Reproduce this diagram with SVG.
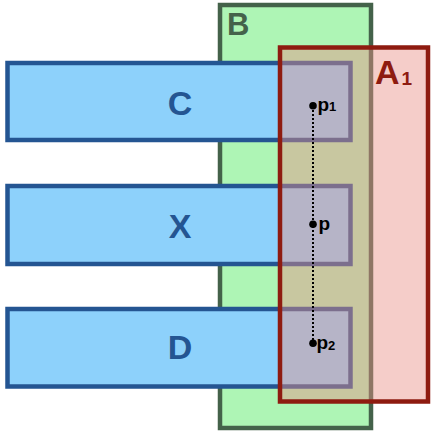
<svg xmlns="http://www.w3.org/2000/svg" width="440" height="436" viewBox="0 0 440 436">
<style>
.lbl{font-family:"Liberation Sans",Arial,Helvetica,sans-serif;font-weight:bold}
.bar{fill:#8dd1fb;stroke:#245592;stroke-width:4.5}
.barTxt{fill:#245592;font-size:34px}
.pt{font-family:"Liberation Sans",Arial,Helvetica,sans-serif;font-weight:bold;fill:#000}
</style>
<rect width="440" height="436" fill="#fff"/>
<g id="B">
<rect x="220" y="5" width="151" height="423" fill="#aef5b5" stroke="#44624a" stroke-width="4.5"/>
<text class="lbl" x="227" y="35" font-size="31" fill="#44624a">B</text>
</g>
<g id="C">
<rect class="bar" x="7.5" y="63" width="343" height="77"/>
<text class="lbl barTxt" x="180" y="114.5" text-anchor="middle">C</text>
</g>
<g id="X">
<rect class="bar" x="7.5" y="186" width="343" height="78"/>
<text class="lbl barTxt" x="180" y="238" text-anchor="middle">X</text>
</g>
<g id="D">
<rect class="bar" x="7.5" y="309" width="343" height="77.5"/>
<text class="lbl barTxt" x="180" y="358.5" text-anchor="middle">D</text>
</g>
<g id="A1">
<rect x="280" y="47.5" width="148" height="354" fill="rgb(233,144,136)" fill-opacity="0.45" stroke="#8e1b10" stroke-width="4.5"/>
<text class="lbl" x="375" y="84" font-size="34" fill="#8e1b10">A<tspan font-size="19" dx="2" dy="1">1</tspan></text>
</g>
<g id="connectors">
<line x1="313" y1="106" x2="313" y2="343" stroke="#000" stroke-width="2" stroke-dasharray="2 2"/>
</g>
<g id="p1">
<circle cx="313" cy="105.7" r="3.8" fill="#000"/>
<text class="pt" x="317.5" y="110.5" font-size="19">p<tspan font-size="13" dy="0.5">1</tspan></text>
</g>
<g id="p">
<circle cx="313" cy="224.3" r="3.8" fill="#000"/>
<text class="pt" x="318.5" y="229.5" font-size="19">p</text>
</g>
<g id="p2">
<circle cx="313" cy="343.3" r="3.8" fill="#000"/>
<text class="pt" x="316.5" y="348.5" font-size="19">p<tspan font-size="13" dy="1">2</tspan></text>
</g>
</svg>
